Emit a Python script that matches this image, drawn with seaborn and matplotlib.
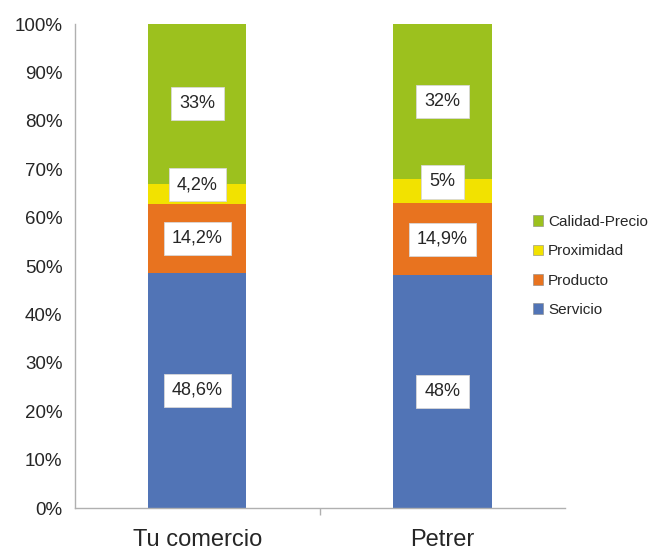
import matplotlib
matplotlib.use("Agg")
import matplotlib.pyplot as plt
import matplotlib.ticker as mticker
from matplotlib.patches import Patch
import numpy as np
import pandas as pd
import seaborn as sns

categories = ["Tu comercio", "Petrer"]
series = ["Servicio", "Producto", "Proximidad", "Calidad-Precio"]
servicio = [48.6, 48.0]
producto = [14.2, 14.9]
proximidad = [4.2, 5.0]
calidad_precio = [33.0, 32.0]
labels = [["48,6%", "48%"], ["14,2%", "14,9%"], ["4,2%", "5%"], ["33%", "32%"]]
colors = ["#5174B6", "#E8731F", "#F2E200", "#9CC11E"]

sns.set_style("white")
plt.rcParams["font.family"] = ["Liberation Sans", "DejaVu Sans"]

vals = np.array([servicio, producto, proximidad, calidad_precio])
vals = vals / vals.sum(axis=0) * 100  # 100% stacked
tops = vals.cumsum(axis=0)
bottoms = tops - vals

fig = plt.figure(figsize=(6.57, 5.52), dpi=100)
ax = fig.add_axes([0.114, 0.0797, 0.746, 0.8768])

# draw cumulative tops from the top layer down so each layer covers the one above
for i in reversed(range(len(series))):
    df = pd.DataFrame({"cat": categories, "top": tops[i]})
    sns.barplot(data=df, x="cat", y="top", color=colors[i], width=0.4,
                saturation=1, linewidth=0, ax=ax, zorder=2)

# small segment labels sit a bit higher, as in the original
nudge = [0, 0, 1.9, 0]
for i in range(len(series)):
    for j in range(len(categories)):
        ax.text(j, bottoms[i, j] + vals[i, j] / 2 + nudge[i], labels[i][j],
                ha="center", va="center", fontsize=13, zorder=5,
                bbox=dict(boxstyle="square,pad=0.45", fc="white", ec="#d8d8d8", lw=0.6))

ax.set_xlim(-0.5, 1.5)
ax.set_ylim(0, 100)
ax.yaxis.set_major_locator(mticker.MultipleLocator(10))
ax.yaxis.set_major_formatter(mticker.FuncFormatter(lambda v, p: f"{v:.0f}%"))
ax.set_xlabel("")
ax.set_ylabel("")
ax.set_xticks([0.5], minor=True)
ax.tick_params(axis="x", which="major", length=0, labelsize=17, pad=15)
ax.tick_params(axis="x", which="minor", length=5, color="#b0b0b0", width=1)
ax.tick_params(axis="y", length=5, color="#b0b0b0", width=1, labelsize=13.5, pad=4)
ax.tick_params(axis="x", bottom=True, which="minor")
for s in ["top", "right"]:
    ax.spines[s].set_visible(False)
for s in ["left", "bottom"]:
    ax.spines[s].set_color("#b0b0b0")
    ax.spines[s].set_linewidth(1)

handles = [Patch(facecolor=colors[i], edgecolor="#888888", linewidth=0.4, label=series[i])
           for i in reversed(range(len(series)))]
fig.legend(handles=handles, loc="center left", bbox_to_anchor=(0.79, 0.518),
           frameon=False, fontsize=11, handlelength=0.7, handleheight=0.7,
           handletextpad=0.3, labelspacing=1.0)

fig.savefig("out.png", dpi=100)
